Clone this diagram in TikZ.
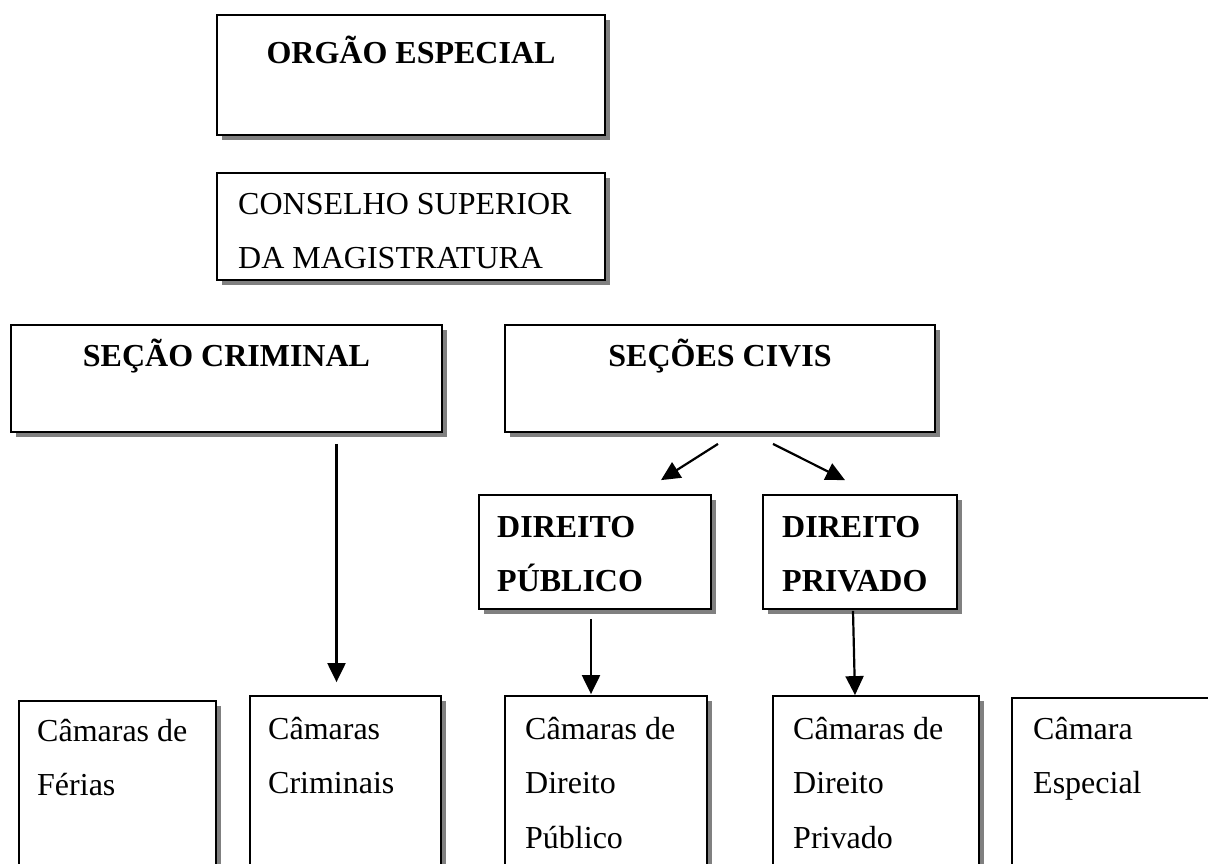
\documentclass[tikz,border=0pt]{standalone}
\usepackage{fontspec}
\setmainfont{Liberation Serif}
\usetikzlibrary{shadows,arrows.meta,calc}
\begin{document}
\begin{tikzpicture}[x=1pt,y=-1pt,
  box/.style={draw=black,line width=1.8pt,fill=white,rectangle,inner sep=0pt,
    drop shadow={shadow xshift=5pt,shadow yshift=-5pt,fill=black!50,opacity=1}},
  txt/.style={inner sep=0pt,font=\fontsize{32}{54.5}\selectfont,align=left},
  btxt/.style={txt,font=\fontsize{32}{54.5}\selectfont\bfseries},
  arr/.style={line width=2.2pt,-{Triangle[length=19pt,width=18pt]}}]
\useasboundingbox (0,0) rectangle (1208,863);
\clip (0,0) rectangle (1208,863);
% boxes
\node[box,minimum width=388pt,minimum height=120pt] (oe) at (411,75) {};
\node[box,minimum width=388pt,minimum height=107pt] (cs) at (411,226.5) {};
\node[box,minimum width=431pt,minimum height=107pt] (crim) at (226.5,378.5) {};
\node[box,minimum width=430pt,minimum height=107pt] (civ) at (720,378.5) {};
\node[box,minimum width=232pt,minimum height=114pt] (dpub) at (595,552) {};
\node[box,minimum width=194pt,minimum height=114pt] (dpriv) at (860,552) {};
\node[box,minimum width=197pt,minimum height=200pt] (cfer) at (117.5,801) {};
\node[box,minimum width=191pt,minimum height=200pt] (ccrim) at (345.5,796) {};
\node[box,minimum width=202pt,minimum height=200pt] (cpub) at (606,796) {};
\node[box,minimum width=206pt,minimum height=200pt] (cpriv) at (876,796) {};
\node[box,minimum width=210pt,minimum height=200pt] (cesp) at (1117,798) {};
% texts (base anchor = baseline of the last line)
\node[btxt,anchor=base] (oe-t) at (411,63) {ORGÃO ESPECIAL};
\node[txt,anchor=base west] (cs-t) at (238,268.5) {CONSELHO SUPERIOR\\DA MAGISTRATURA};
\node[btxt,anchor=base] (crim-t) at (226.5,366) {SEÇÃO CRIMINAL};
\node[btxt,anchor=base] (civ-t) at (720,366) {SEÇÕES CIVIS};
\node[btxt,anchor=base west] (dpub-t) at (497,591.5) {DIREITO\\PÚBLICO};
\node[btxt,anchor=base west] (dpriv-t) at (782,591.5) {DIREITO\\PRIVADO};
\node[txt,anchor=base west] (cfer-t) at (37,795.5) {Câmaras de\\Férias};
\node[txt,anchor=base west] (ccrim-t) at (268,793.5) {Câmaras\\Criminais};
\node[txt,anchor=base west] (cpub-t) at (525,848) {Câmaras de\\Direito\\Público};
\node[txt,anchor=base west] (cpriv-t) at (793,848) {Câmaras de\\Direito\\Privado};
\node[txt,anchor=base west] (cesp-t) at (1033,793.5) {Câmara\\Especial};
% connectors
\draw[arr] ([xshift=110pt,yshift=-11pt]crim.south) -- ([xshift=-9pt,yshift=13pt]ccrim.north);
\draw[arr] ([xshift=-2pt,yshift=-11pt]civ.south) -- ([xshift=66pt,yshift=14pt]dpub.north);
\draw[arr] ([xshift=53pt,yshift=-11pt]civ.south) -- ([xshift=-15pt,yshift=14pt]dpriv.north);
\draw[arr] ([xshift=-4pt,yshift=-9pt]dpub.south) -- ([xshift=-15pt,yshift=1pt]cpub.north);
\draw[arr] ([xshift=-7pt,yshift=-1pt]dpriv.south) -- ([xshift=-21pt,yshift=0pt]cpriv.north);
\end{tikzpicture}
\end{document}
